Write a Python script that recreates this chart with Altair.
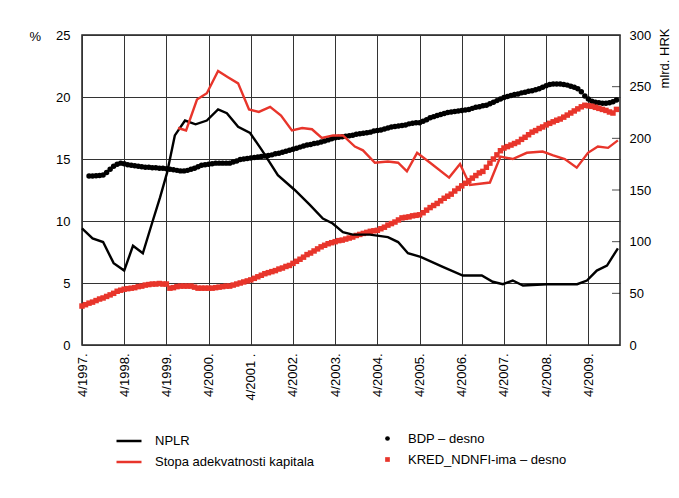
import altair as alt
import pandas as pd

# ---- data (x = months since 4/1997) ----
X_MAX = 153
YEAR_TICKS = list(range(0, 145, 12))
LEFT_TICKS = [0, 5, 10, 15, 20, 25]
RIGHT_TICKS = [0, 50, 100, 150, 200, 250, 300]

NPLR_M = [0, 3, 6, 9, 12, 14.5, 17.3, 20, 22.2, 24.2, 26.4, 29.3, 32.3, 35.5, 38.7, 41.2, 44.4,
          47.8, 51.2, 55.7, 60.5, 64.8, 68.5, 71.3, 74.2, 77, 81.9, 87, 89.9, 92.7, 96.3, 102.6,
          108.3, 113.7, 116.8, 119.7, 122.5, 125.4, 132.2, 140.8, 143.6, 146.4, 149.3, 152.4]
NPLR_V = [9.4, 8.6, 8.3, 6.6, 6.0, 8.0, 7.4, 9.9, 11.9, 13.9, 16.9, 18.1, 17.8, 18.1, 19.0, 18.7, 17.6,
          17.1, 15.7, 13.7, 12.5, 11.3, 10.2, 9.8, 9.1, 8.9, 8.9, 8.7, 8.3, 7.4, 7.1, 6.3,
          5.6, 5.6, 5.1, 4.9, 5.2, 4.8, 4.9, 4.9, 5.2, 6.0, 6.4, 7.8]

CAR_M = [27.3, 29.6, 32.7, 35.5, 38.7, 41.5, 44.4, 47.5, 50.3, 53.5, 56.6, 59.7, 62.6, 65.4, 68.2,
         71.4, 74.2, 77.6, 79.9, 83.3, 87, 89.9, 92.4, 95.3, 99, 104.4, 107.5, 110.3, 116, 119,
         122.5, 126.5, 131, 134, 137.3, 140.7, 143.9, 146.7, 149.6, 152.4]
CAR_V = [17.5, 17.3, 19.8, 20.3, 22.1, 21.6, 21.1, 19.0, 18.8, 19.2, 18.5, 17.3, 17.5, 17.4, 16.7,
         16.9, 16.9, 16.0, 15.7, 14.7, 14.8, 14.7, 14.0, 15.5, 14.7, 13.5, 14.6, 12.9, 13.1, 15.2,
         15.0, 15.5, 15.6, 15.3, 15.0, 14.3, 15.5, 16.0, 15.9, 16.5]

BDP_M = list(range(2, 153))
BDP_V = [163.5, 163.5, 163.7, 164, 164.5, 167, 170, 173, 175, 176, 175.5, 174.5, 174, 173.5, 173,
         172.5, 172, 172, 171.5, 171.5, 171, 171, 170.5, 170, 169.5, 169, 168.5, 168.5, 169, 170,
         171, 172.5, 174, 174.5, 175, 175.5, 176, 176, 176, 176, 176, 177, 178, 179.5, 180,
         180.5, 181, 181.5, 182, 182.5, 183, 183.5, 184, 185, 185.5, 186.5, 187.5, 188.5, 189.5, 190.5,
         191.5, 192.5, 193.5, 194, 195, 195.5, 196.5, 197.5, 198.5, 199.5, 200.5, 201, 201.5, 202, 202.5,
         203, 204, 204.5, 205, 205.5, 206, 207, 207.5, 208, 209, 210, 211, 211.5, 212, 212.5,
         213, 214, 214.5, 215, 215, 216.5, 218, 220, 221, 222, 223, 224, 225, 225.5, 226,
         226.5, 227, 227.5, 228, 229, 230, 230.5, 231.5, 232, 233.5, 235, 236.5, 238, 239.5, 240.5,
         241.5, 242.5, 243, 244, 244.5, 245.5, 246, 247, 248, 249.5, 251, 252, 252.5, 252.5, 252.5,
         252, 251.5, 250.5, 249.5, 248, 245, 241, 238, 236, 235, 234.5, 234, 234, 234.5, 235.5, 237]

KRED_M = list(range(0, 153))
KRED_V = [37.7, 39, 40.5, 41.5, 43, 44.5, 45.5, 47, 48.5, 50, 52, 53, 54, 54.5, 55, 55.5, 56.5,
          57, 58, 58.5, 59, 59, 59.5, 59, 59, 55, 55.5, 56.5, 57, 57, 57, 57, 56, 55, 55, 55, 55,
          55, 55.5, 56, 56.5, 57, 57, 58, 59, 60, 61, 62, 63, 64.5, 66, 67.5, 69, 70, 71, 72, 73.5,
          74.5, 76, 77, 79, 81, 83, 85, 87.5, 89, 91, 93, 95, 96.5, 98, 99, 100, 101, 101.5, 102.5,
          103.5, 104.5, 106, 107, 108, 109, 110, 110.5, 111, 112.5, 114, 116, 117.5, 119, 121, 123,
          123.5, 124, 125, 125.5, 126, 128, 130.5, 133, 135, 137, 139.5, 142, 144, 146, 149, 151.5,
          154, 156.5, 159, 161.5, 164, 166.5, 168, 172, 176, 180, 184, 188, 190.6, 192, 193.5, 195,
          196.5, 199, 201, 203.5, 206, 207.5, 209.5, 211, 213, 214.5, 216, 217.5, 218.7, 220.5,
          222.5, 224.5, 226.5, 228.5, 230.5, 232, 231.5, 231, 230, 229, 228, 227, 225.5, 224.5, 228]

LINE_NAMES = ["NPLR", "Stopa adekvatnosti kapitala"]
PT_NAMES = ["BDP – desno", "KRED_NDNFI-ima – desno"]
BLACK = "#000000"
RED = "#e8352b"
FONT = "Liberation Sans"
FS = 13

lines_df = pd.concat([
    pd.DataFrame({"m": NPLR_M, "v": NPLR_V, "s": LINE_NAMES[0]}),
    pd.DataFrame({"m": CAR_M, "v": CAR_V, "s": LINE_NAMES[1]}),
])
pts_df = pd.concat([
    pd.DataFrame({"m": BDP_M, "v": BDP_V, "p": PT_NAMES[0]}),
    pd.DataFrame({"m": KRED_M, "v": KRED_V, "p": PT_NAMES[1]}),
])
tick_df = pd.DataFrame({"m": [X_MAX] * 5, "v": RIGHT_TICKS[1:-1]})

x_enc = alt.X(
    "m:Q",
    scale=alt.Scale(domain=[0, X_MAX], nice=False, zero=False),
    axis=alt.Axis(
        values=YEAR_TICKS,
        labelExpr="datum.value == 48 ? '4/2001 .' : '4/' + (1997 + datum.value / 12) + '.'",
        labelAngle=270, labelAlign="right", labelBaseline="middle", labelPadding=8,
        ticks=False, domain=False, grid=True, gridColor="#333333", gridWidth=1,
        title=None,
    ),
)

left_y = alt.Y(
    "v:Q",
    scale=alt.Scale(domain=[0, 25], nice=False),
    axis=alt.Axis(
        values=LEFT_TICKS, orient="left", grid=True, gridColor="#333333", gridWidth=1,
        ticks=False, domain=False, labelPadding=12,
        title="%", titleAngle=0, titleX=-53, titleY=1, titleAlign="left",
        titleBaseline="middle", titleFontWeight="normal",
    ),
)
right_y = alt.Y(
    "v:Q",
    scale=alt.Scale(domain=[0, 300], nice=False),
    axis=alt.Axis(
        values=RIGHT_TICKS, orient="right", grid=False, ticks=False, domain=False,
        labelPadding=9, title="mlrd. HRK", titleAngle=270, titleX=44, titleY=-7,
        titleAlign="right", titleBaseline="middle", titleFontWeight="normal",
    ),
)

line_legend = alt.Legend(
    orient="none", legendX=33, legendY=392, title=None, direction="vertical",
    symbolType="stroke", symbolSize=625, symbolStrokeWidth=2.5, labelOffset=12,
    rowPadding=-5, padding=0, labelLimit=400,
)
pt_legend = alt.Legend(
    orient="none", legendX=299, legendY=397, title=None, direction="vertical",
    symbolSize=22, symbolStrokeWidth=0, labelOffset=14, rowPadding=7, padding=0,
    labelLimit=400,
)

lines = alt.Chart(lines_df).mark_line(strokeWidth=2.4).encode(
    x=x_enc,
    y=left_y,
    color=alt.Color("s:N", scale=alt.Scale(domain=LINE_NAMES, range=[BLACK, RED]), legend=line_legend),
    detail="s:N",
)

points = alt.Chart(pts_df).mark_point(filled=True, size=30, opacity=1).encode(
    x=x_enc,
    y=right_y,
    color=alt.Color("p:N", scale=alt.Scale(domain=PT_NAMES, range=[BLACK, RED]), legend=pt_legend),
    shape=alt.Shape("p:N", scale=alt.Scale(domain=PT_NAMES, range=["circle", "square"]), legend=pt_legend),
)

rticks = alt.Chart(tick_df).mark_tick(orient="horizontal", size=8, thickness=1, color=BLACK, xOffset=-4).encode(
    x=alt.X("m:Q"),
    y=alt.Y("v:Q"),
)

right_group = alt.layer(points, rticks)
chart = alt.layer(right_group, lines).resolve_scale(
    y="independent", color="independent", shape="independent"
).properties(
    width=538,
    height=310,
    autosize=alt.AutoSizeParams(type="none"),
    padding={"left": 74, "top": 27, "right": 51, "bottom": 145},
).configure_view(
    stroke="#222222", strokeWidth=1.5
).configure_axis(
    labelFont=FONT, titleFont=FONT, labelFontSize=FS, titleFontSize=FS,
    labelColor="#000000", titleColor="#000000",
).configure_legend(
    labelFont=FONT, labelFontSize=FS, labelColor="#000000",
)

chart.save("out.html", embed_options={"renderer": "svg", "actions": False})
